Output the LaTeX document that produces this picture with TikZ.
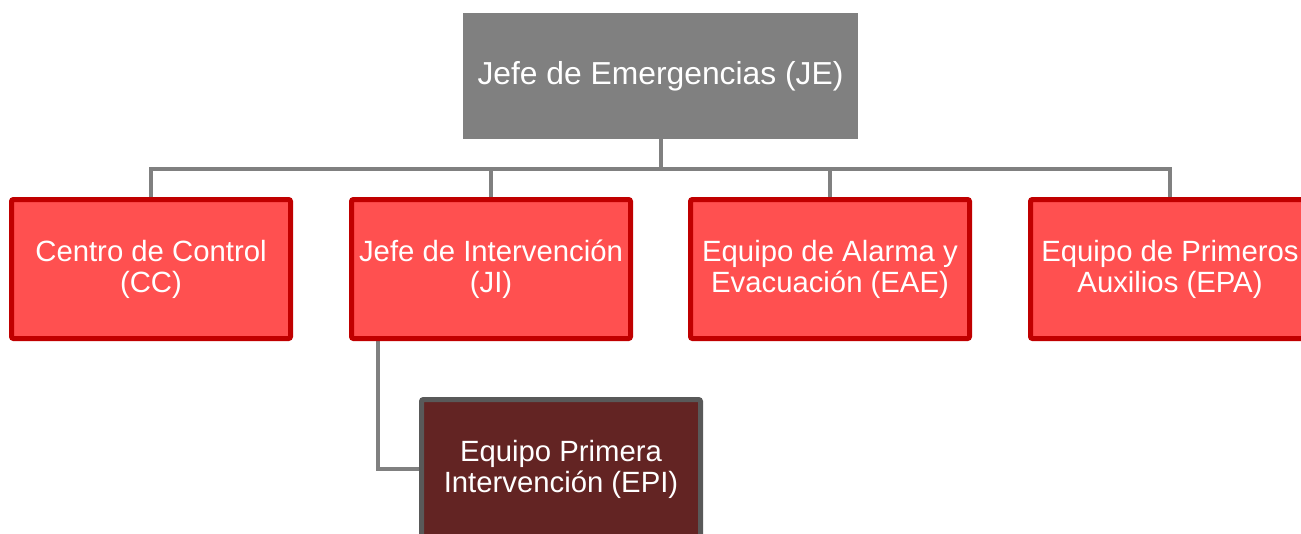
\documentclass[tikz,border=0pt]{standalone}
\usepackage{fontspec}
\setmainfont{Liberation Sans}
\usetikzlibrary{backgrounds}
\definecolor{boxred}{HTML}{FF5050}
\definecolor{edgered}{HTML}{C00000}
\definecolor{topgray}{HTML}{808080}
\definecolor{linegray}{HTML}{808080}
\definecolor{epifill}{HTML}{632423}
\definecolor{epiedge}{HTML}{595959}
\tikzset{
  orgtext/.style={text=white, align=center, font=\fontsize{29.3pt}{31pt}\selectfont},
  topbox/.style={orgtext, fill=topgray, draw=none, minimum width=395pt, minimum height=126pt, inner sep=0pt, font=\fontsize{31.8pt}{34pt}\selectfont},
  redbox/.style={orgtext, fill=boxred, draw=edgered, line width=5pt, rounded corners=2pt, minimum width=279pt, minimum height=139pt, inner sep=2pt},
  epibox/.style={orgtext, fill=epifill, draw=epiedge, line width=5pt, rounded corners=2pt, minimum width=279pt, minimum height=139pt, inner sep=2pt},
  conn/.style={draw=linegray, line width=4pt}
}
\begin{document}
\begin{tikzpicture}[x=1pt, y=-1pt]
\useasboundingbox (0,0) rectangle (1301,533);
\node[topbox] (JE) at (660.5,76) {Jefe de Emergencias (JE)};
\node[redbox] (CC) at (151,269) {Centro de Control\\(CC)};
\node[redbox] (JI) at (491,269) {Jefe de Intervención\\(JI)};
\node[redbox] (EAE) at (830,269) {Equipo de Alarma y\\Evacuación (EAE)};
\node[redbox] (EPA) at (1170,269) {Equipo de Primeros\\Auxilios (EPA)};
\node[epibox] (EPI) at (561,469) {Equipo Primera\\Intervención (EPI)};
\begin{scope}[on background layer]
\foreach \c in {CC,JI,EAE,EPA}{
  \draw[conn] (JE.south) -- ++(0,29.5) -| (\c.north);
}
\draw[conn] ([xshift=29pt]JI.south west) |- (EPI.west);
\end{scope}
\end{tikzpicture}
\end{document}
